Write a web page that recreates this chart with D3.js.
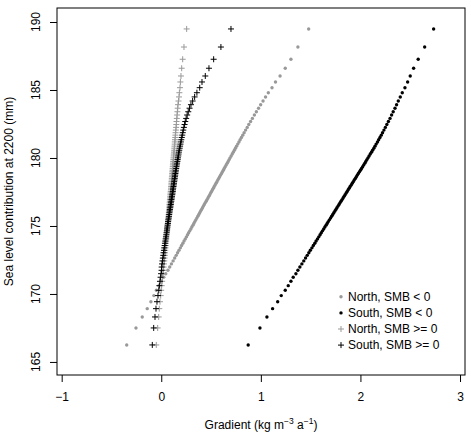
<!DOCTYPE html>
<html>
<head>
<meta charset="utf-8">
<script src="https://cdn.jsdelivr.net/npm/d3@7"></script>
<style>
  body { margin: 0; background: #fff; }
  text { font-family: "Liberation Sans", Arial, sans-serif; }
</style>
</head>
<body>
<div id="chart"></div>
<script>
// sea level contribution levels (mm), shared by all four series
var levels = [
  166.25, 167.50, 168.31, 168.92, 169.43, 169.88, 170.27, 170.61, 170.93, 171.23, 171.49, 171.74,
  171.98, 172.21, 172.43, 172.64, 172.84, 173.03, 173.21, 173.39, 173.56, 173.73,
  173.89, 174.05, 174.20, 174.35, 174.50, 174.64, 174.78, 174.92, 175.06, 175.19,
  175.32, 175.45, 175.58, 175.71, 175.84, 175.97, 176.10, 176.22, 176.34, 176.46,
  176.58, 176.70, 176.82, 176.94, 177.06, 177.18, 177.30, 177.42, 177.54, 177.66,
  177.78, 177.90, 178.02, 178.14, 178.26, 178.38, 178.50, 178.62, 178.74, 178.86,
  178.98, 179.10, 179.23, 179.36, 179.49, 179.62, 179.75, 179.88, 180.01, 180.15,
  180.29, 180.43, 180.57, 180.72, 180.87, 181.02, 181.18, 181.34, 181.51, 181.68,
  181.86, 182.05, 182.25, 182.46, 182.68, 182.91, 183.16, 183.40, 183.66,
  183.92, 184.19, 184.49, 184.80, 185.17, 185.59, 186.03, 186.60, 187.26, 188.16, 189.49
];

// gradient values (kg m-3 a-1)
var northNeg = [
  -0.347, -0.254, -0.191, -0.141, -0.104, -0.074, -0.049, -0.024, 0.000, 0.023, 0.045, 0.067,
  0.085, 0.102, 0.119, 0.135, 0.150, 0.164, 0.178, 0.192, 0.204, 0.217,
  0.229, 0.241, 0.253, 0.264, 0.275, 0.286, 0.297, 0.307, 0.318, 0.327,
  0.337, 0.347, 0.357, 0.367, 0.377, 0.386, 0.396, 0.405, 0.414, 0.423,
  0.432, 0.441, 0.451, 0.460, 0.469, 0.478, 0.487, 0.496, 0.505, 0.514,
  0.523, 0.532, 0.541, 0.550, 0.559, 0.568, 0.577, 0.586, 0.596, 0.605,
  0.614, 0.623, 0.632, 0.642, 0.652, 0.662, 0.672, 0.682, 0.691, 0.702,
  0.713, 0.723, 0.734, 0.745, 0.756, 0.768, 0.780, 0.792, 0.805, 0.818,
  0.832, 0.847, 0.863, 0.879, 0.897, 0.915, 0.935, 0.955, 0.977,
  0.998, 1.022, 1.047, 1.075, 1.112, 1.147, 1.193, 1.245, 1.302, 1.372, 1.480
];

var southNeg = [
  0.873, 0.991, 1.061, 1.118, 1.169, 1.205, 1.245, 1.275, 1.302, 1.325, 1.352, 1.372,
  1.392, 1.412, 1.431, 1.449, 1.466, 1.482, 1.497, 1.513, 1.527, 1.542,
  1.555, 1.569, 1.582, 1.595, 1.607, 1.619, 1.631, 1.643, 1.655, 1.666,
  1.677, 1.688, 1.700, 1.711, 1.722, 1.733, 1.744, 1.754, 1.764, 1.775,
  1.785, 1.795, 1.805, 1.816, 1.826, 1.836, 1.846, 1.857, 1.867, 1.877,
  1.887, 1.897, 1.908, 1.918, 1.928, 1.938, 1.949, 1.959, 1.969, 1.979,
  1.990, 2.000, 2.011, 2.022, 2.033, 2.044, 2.054, 2.065, 2.076, 2.087,
  2.099, 2.111, 2.122, 2.135, 2.146, 2.158, 2.171, 2.183, 2.196, 2.209,
  2.222, 2.236, 2.250, 2.265, 2.281, 2.297, 2.313, 2.329, 2.347,
  2.363, 2.380, 2.400, 2.420, 2.447, 2.474, 2.500, 2.534, 2.580, 2.645, 2.735
];

var northPos = [
  -0.050, -0.036, -0.026, -0.020, -0.013, -0.006, -0.001, 0.004, 0.009, 0.013, 0.017, 0.021,
  0.024, 0.027, 0.030, 0.033, 0.035, 0.038, 0.040, 0.042, 0.045, 0.047,
  0.049, 0.051, 0.053, 0.055, 0.057, 0.059, 0.061, 0.062, 0.064, 0.066,
  0.068, 0.069, 0.071, 0.072, 0.074, 0.076, 0.077, 0.079, 0.080, 0.082,
  0.083, 0.084, 0.086, 0.087, 0.089, 0.090, 0.092, 0.093, 0.095, 0.097,
  0.098, 0.099, 0.101, 0.102, 0.103, 0.105, 0.106, 0.107, 0.109, 0.110,
  0.111, 0.113, 0.114, 0.116, 0.117, 0.119, 0.120, 0.122, 0.123, 0.125,
  0.126, 0.128, 0.130, 0.131, 0.133, 0.135, 0.136, 0.138, 0.140, 0.142,
  0.144, 0.146, 0.149, 0.151, 0.153, 0.156, 0.159, 0.162, 0.165,
  0.168, 0.173, 0.178, 0.182, 0.188, 0.192, 0.198, 0.205, 0.215, 0.228, 0.255
];

var southPos = [
  -0.090, -0.076, -0.063, -0.053, -0.043, -0.033, -0.025, -0.019, -0.013, -0.007, -0.002, 0.003,
  0.004, 0.008, 0.012, 0.016, 0.020, 0.023, 0.027, 0.030, 0.034, 0.037,
  0.040, 0.044, 0.047, 0.050, 0.053, 0.056, 0.058, 0.061, 0.064, 0.067,
  0.069, 0.072, 0.075, 0.078, 0.080, 0.083, 0.086, 0.088, 0.091, 0.093,
  0.096, 0.098, 0.101, 0.103, 0.106, 0.108, 0.111, 0.113, 0.116, 0.118,
  0.120, 0.123, 0.126, 0.128, 0.130, 0.133, 0.135, 0.138, 0.140, 0.142,
  0.145, 0.147, 0.150, 0.153, 0.156, 0.159, 0.162, 0.165, 0.168, 0.171,
  0.174, 0.177, 0.181, 0.185, 0.189, 0.193, 0.197, 0.201, 0.206, 0.211,
  0.216, 0.221, 0.227, 0.234, 0.241, 0.250, 0.260, 0.271, 0.284,
  0.298, 0.315, 0.335, 0.358, 0.386, 0.409, 0.442, 0.479, 0.526, 0.599, 0.700
];

var seriesNames = ["North, SMB < 0", "South, SMB < 0", "North, SMB >= 0", "South, SMB >= 0"];
var xTicks = [-1, 0, 1, 2, 3];
var yTicks = [165, 170, 175, 180, 185, 190];

var series = [
  {name: seriesNames[0], values: northNeg, color: "#999999", shape: "dot"},
  {name: seriesNames[1], values: southNeg, color: "#000000", shape: "dot"},
  {name: seriesNames[2], values: northPos, color: "#999999", shape: "plus"},
  {name: seriesNames[3], values: southPos, color: "#000000", shape: "plus"}
];

var W = 471, H = 432;
var plotLeft = 57, plotRight = 465, plotTop = 8, plotBottom = 375;

var svg = d3.select("#chart").append("svg")
  .attr("width", W)
  .attr("height", H);

var x = d3.scaleLinear().domain([-1.047, 3.05]).range([plotLeft, plotRight]);
var y = d3.scaleLinear().domain([164.04, 191.03]).range([plotBottom, plotTop]);

var fmt = function(d) { return d < 0 ? "\u2212" + Math.abs(d) : String(d); };

//draws one marker in a group
function marker(g, shape, color) {
  if (shape == "dot") {
    g.append("circle").attr("r", 1.7).attr("fill", color);
  } else {
    g.append("path").attr("d", "M-3,0H3M0,-3V3")
      .attr("stroke", color).attr("stroke-width", 1).attr("fill", "none");
  }
}

//points
series.forEach(function(s) {
  svg.append("g").selectAll("g")
    .data(levels.map(function(lv, i) { return {x: s.values[i], y: lv}; }))
    .enter()
    .append("g")
      .attr("transform", function(d) { return "translate(" + x(d.x) + "," + y(d.y) + ")"; })
      .each(function() { marker(d3.select(this), s.shape, s.color); });
});

//x axis
var gx = svg.append("g")
  .attr("transform", "translate(0," + plotBottom + ")")
  .call(d3.axisBottom(x).tickValues(xTicks).tickSize(7).tickPadding(10).tickFormat(fmt));
gx.select(".domain").remove();
gx.selectAll("text").attr("font-size", 12).attr("font-family", "Liberation Sans, Arial, sans-serif").attr("fill", "#000");
gx.selectAll("line").attr("stroke", "#000");

//y axis, labels rotated like R
var gy = svg.append("g")
  .attr("transform", "translate(" + plotLeft + ",0)")
  .call(d3.axisLeft(y).tickValues(yTicks).tickSize(7).tickFormat(""));
gy.select(".domain").remove();
gy.selectAll("line").attr("stroke", "#000");

svg.append("g").selectAll("text")
  .data(yTicks)
  .enter()
  .append("text")
    .attr("transform", function(d) { return "translate(40," + y(d) + ") rotate(-90)"; })
    .attr("text-anchor", "middle")
    .attr("font-size", 12)
    .text(fmt);

//box
svg.append("rect")
  .attr("x", plotLeft).attr("y", plotTop)
  .attr("width", plotRight - plotLeft).attr("height", plotBottom - plotTop)
  .attr("fill", "none").attr("stroke", "#000").attr("stroke-width", 1);

//axis titles
svg.append("text")
  .attr("transform", "translate(13," + ((plotTop + plotBottom) / 2) + ") rotate(-90)")
  .attr("text-anchor", "middle")
  .attr("font-size", 12)
  .text("Sea level contribution at 2200 (mm)");

var xl = svg.append("text")
  .attr("x", (plotLeft + plotRight) / 2).attr("y", 429)
  .attr("text-anchor", "middle")
  .attr("font-size", 12);
xl.append("tspan").text("Gradient (kg m");
xl.append("tspan").attr("dy", -5).attr("font-size", 8.5).text("\u22123");
xl.append("tspan").attr("dy", 5).text(" a");
xl.append("tspan").attr("dy", -5).attr("font-size", 8.5).text("\u22121");
xl.append("tspan").attr("dy", 5).text(")");

//legend
var legend = svg.append("g").selectAll("g")
  .data(series)
  .enter()
  .append("g")
    .attr("transform", function(d, i) { return "translate(341," + (296.8 + i * 16.1) + ")"; });

legend.each(function(d) { marker(d3.select(this), d.shape, d.color); });

legend.append("text")
  .attr("x", 7)
  .attr("dy", "0.36em")
  .attr("font-size", 12)
  .text(function(d) { return d.name; });
</script>
</body>
</html>
